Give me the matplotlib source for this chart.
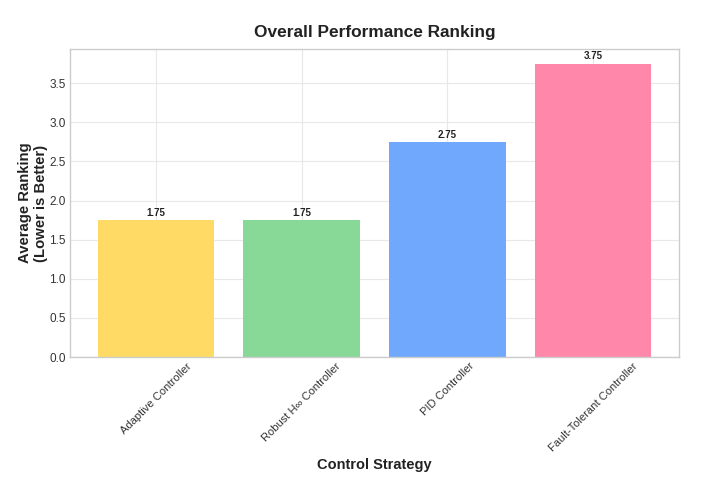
import matplotlib
matplotlib.use("Agg")
import matplotlib.pyplot as plt
import numpy as np

plt.rcParams['font.family'] = ['Liberation Sans', 'DejaVu Sans']

strategies = ['Adaptive Controller', 'Robust H\u221e Controller', 'PID Controller', 'Fault-Tolerant Controller']
avg_rank = [1.75, 1.75, 2.75, 3.75]
colors = ['#FFDB66', '#88D898', '#6FA8FC', '#FF88AA']

fig = plt.figure(figsize=(7.07, 4.87), dpi=100)
ax = fig.add_axes([70/707, 1-357/487, 609/707, 308/487])

x = np.arange(len(strategies))
bars = ax.bar(x, avg_rank, width=0.8, color=colors, zorder=2)

# value labels on top of bars
for b, v in zip(bars, avg_rank):
    ax.text(b.get_x() + b.get_width()/2, v + 0.03, f'{v:.2f}', ha='center', va='bottom',
            fontsize=7, fontweight='bold', color='#222222')

ax.set_xlim(-0.59, 3.59)
ax.set_ylim(0, 3.9375)
ax.set_yticks(np.arange(0, 3.6, 0.5))
ax.set_xticks(x)
ax.set_xticklabels(strategies, rotation=45, ha='center', fontsize=8, color='#333333')
ax.tick_params(axis='y', labelsize=8.5, labelcolor='#333333', length=0, pad=3)
ax.tick_params(axis='x', length=0, pad=3)

ax.grid(True, color='#e8e8e8', linewidth=0.8, zorder=0)
ax.set_axisbelow(True)
for s in ax.spines.values():
    s.set_color('#cccccc')
    s.set_linewidth(1.0)

ax.set_title('Overall Performance Ranking', fontsize=12.4, fontweight='bold', color='#222222', pad=9)
ax.set_xlabel('Control Strategy', fontsize=10.5, fontweight='bold', color='#222222')
ax.xaxis.set_label_coords(0.5, (357 - 458) / 308)
ax.set_ylabel('Average Ranking\n(Lower is Better)', fontsize=10.7, fontweight='bold', color='#222222')
ax.yaxis.set_label_coords(-(70 - 48) / 609, 0.5)

fig.savefig('out.png', dpi=100, facecolor='white')
